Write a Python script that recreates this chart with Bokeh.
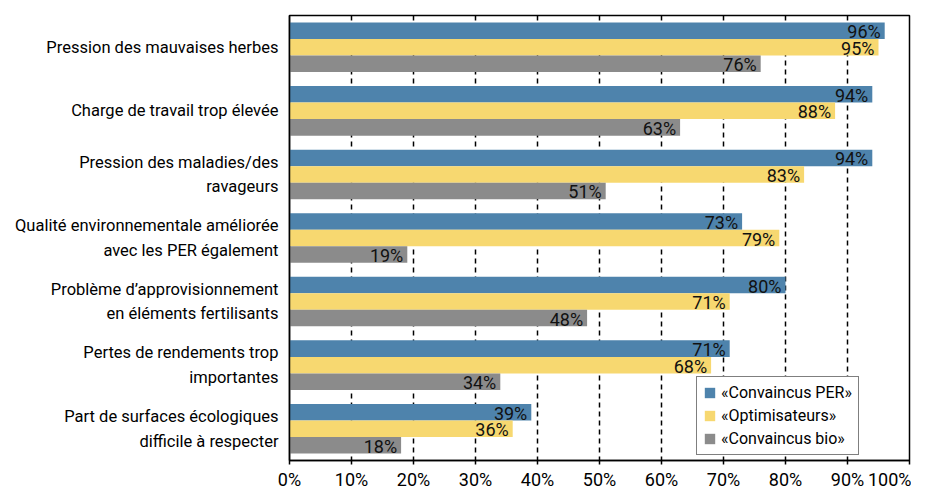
from bokeh.plotting import figure
from bokeh.models import ColumnDataSource, Range1d, FixedTicker, Legend, LegendItem
from bokeh.transform import dodge
from bokeh.core.properties import value
from bokeh.embed import file_html
from bokeh.resources import INLINE

categories = [
    "Pression des mauvaises herbes",
    "Charge de travail trop élevée",
    "Pression des maladies/des\nravageurs",
    "Qualité environnementale améliorée\navec les PER également",
    "Problème d\u2019approvisionnement\nen éléments fertilisants",
    "Pertes de rendements trop\nimportantes",
    "Part de surfaces écologiques\ndifficile à respecter",
]
series_names = ["«Convaincus PER»", "«Optimisateurs»", "«Convaincus bio»"]
convaincus_per = [96, 94, 94, 73, 80, 71, 39]
optimisateurs = [95, 88, 83, 79, 71, 68, 36]
convaincus_bio = [76, 63, 51, 19, 48, 34, 18]
x_ticks = [0, 10, 20, 30, 40, 50, 60, 70, 80, 90, 100]

colors = ["#4E83AC", "#F7D870", "#8B8B8B"]
FONT = "Roboto"

idx = list(range(len(categories)))
src = ColumnDataSource(dict(
    y=idx,
    per=convaincus_per, opt=optimisateurs, bio=convaincus_bio,
    per_l=[f"{v}%" for v in convaincus_per],
    opt_l=[f"{v}%" for v in optimisateurs],
    bio_l=[f"{v}%" for v in convaincus_bio],
))

p = figure(width=911, height=492, output_backend="svg", toolbar_location=None,
           x_range=Range1d(0, 100), y_range=Range1d(len(categories) - 0.5, -0.5),
           min_border_left=289, min_border_right=2, min_border_top=15, min_border_bottom=29)
p.background_fill_color = "white"
p.border_fill_color = "white"
p.outline_line_color = "black"
p.outline_line_width = 1.5

bw = 0.26
offsets = [-bw, 0.0, bw]
keys = ["per", "opt", "bio"]
renderers = []
for k, off, c in zip(keys, offsets, colors):
    r = p.hbar(y=dodge("y", off, range=p.y_range), right=k, left=0, height=bw,
               source=src, fill_color=c, line_color=None)
    renderers.append(r)
    p.text(x=k, y=dodge("y", off, range=p.y_range), text=k + "_l", source=src,
           text_align="right", text_baseline="middle", x_offset=-4, y_offset=1,
           text_font=value(FONT), text_font_size="18px", text_color="#111111")

# grid
p.ygrid.grid_line_color = None
p.xgrid.ticker = FixedTicker(ticks=x_ticks)
p.xgrid.grid_line_color = "black"
p.xgrid.grid_line_dash = "5 4"
p.xgrid.grid_line_width = 1.5

# x axis
p.xaxis.ticker = FixedTicker(ticks=x_ticks)
p.xaxis.major_label_overrides = {t: f"{t}%" for t in x_ticks}
p.xaxis.major_label_text_font = FONT
p.xaxis.major_label_text_font_size = "18px"
p.xaxis.major_label_text_color = "black"
p.xaxis.axis_line_color = "black"
p.xaxis.axis_line_width = 1.5
p.xaxis.major_tick_line_color = "black"
p.xaxis.major_tick_line_width = 1.5
p.xaxis.major_tick_out = 4
p.xaxis.major_tick_in = 0
p.xaxis.minor_tick_line_color = None
p.xaxis.major_label_standoff = 4

# y axis
p.yaxis.ticker = FixedTicker(ticks=idx)
p.yaxis.major_label_overrides = {i: c for i, c in zip(idx, categories)}
p.yaxis.major_label_text_font = FONT
p.yaxis.major_label_text_font_size = "16.5px"
p.yaxis.major_label_text_color = "black"
p.yaxis.major_label_text_line_height = 1.3
p.yaxis.axis_line_color = "black"
p.yaxis.axis_line_width = 1.5
p.yaxis.major_tick_line_color = None
p.yaxis.minor_tick_line_color = None
p.yaxis.major_tick_out = 0
p.yaxis.major_tick_in = 0
p.yaxis.major_label_standoff = 11

legend = Legend(items=[LegendItem(label=n, renderers=[r]) for n, r in zip(series_names, renderers)],
                location=(407, 5), orientation="vertical")
legend.label_text_font = FONT
legend.label_text_font_size = "16px"
legend.label_text_color = "black"
legend.glyph_width = 13
legend.glyph_height = 13
legend.label_height = 13
legend.label_standoff = 5
legend.spacing = 4
legend.padding = 6
legend.margin = 0
legend.border_line_color = "black"
legend.border_line_width = 1.5
legend.background_fill_color = "white"
legend.background_fill_alpha = 1.0
p.add_layout(legend, "center")

open("out.html", "w").write(file_html(p, INLINE))
